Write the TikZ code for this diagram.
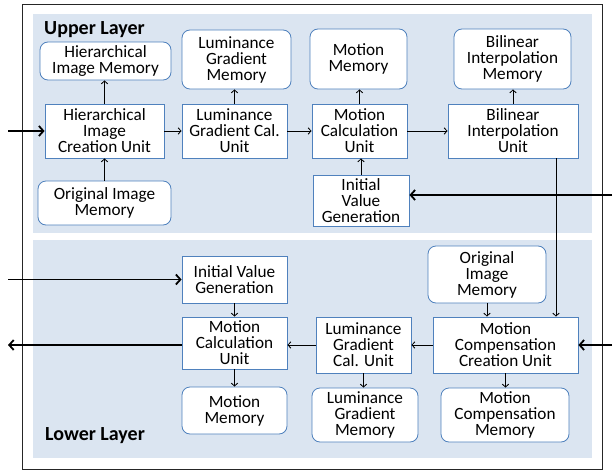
\documentclass[tikz,border=0pt]{standalone}
\usepackage{fontspec}
\setmainfont{Carlito}
\usetikzlibrary{arrows.meta}
\definecolor{boxblue}{RGB}{79,129,189}
\definecolor{panelblue}{RGB}{219,229,241}

\begin{document}
\begin{tikzpicture}[x=1pt,y=-1pt,
	every node/.style={font=\fontsize{17.2}{16}\selectfont,align=center,inner sep=0pt},
	unit/.style={rectangle,draw=boxblue,fill=white,line width=0.8pt},
	memory/.style={rectangle,rounded corners=8pt,draw=boxblue,fill=white,line width=0.8pt},
	layertitle/.style={font=\fontsize{20}{24}\selectfont\bfseries,anchor=base west},
	flow/.style={arrows={-Straight Barb[length=3pt,width=6.5pt]},line width=0.8pt},
	bigflow/.style={arrows={-Straight Barb[length=4.5pt,width=10pt]},line width=1.8pt}]
	\useasboundingbox (0,0) rectangle (616,471);
	
	\draw[black!85,line width=0.8pt] (22,4) rectangle (602,469);
	\fill[panelblue] (33,14) rectangle (592,233);
	\fill[panelblue] (33,240) rectangle (592,458);
	
	\node[layertitle] (upper) at (44,34.5) {Upper Layer};
	\node[layertitle] (lower) at (45,440.5) {Lower Layer};
	
	% upper layer
	\node[memory,minimum width=131,minimum height=38] (himem1)
	at (105.5,61) {Hierarchical\\Image Memory};
	\node[unit,minimum width=119,minimum height=54] (creation1)
	at (104.5,131) {Hierarchical\\Image\\Creation Unit};
	\node[memory,minimum width=133,minimum height=44] (origmem1)
	at (104.5,203) {Original Image\\Memory};
	
	\node[memory,minimum width=109,minimum height=59] (lgmem1)
	at (236.5,59.5) {Luminance\\Gradient\\Memory};
	\node[unit,minimum width=105,minimum height=54] (lgcal1)
	at (234.5,131) {Luminance\\Gradient Cal.\\Unit};
	
	\node[memory,minimum width=97,minimum height=60] (motmem1)
	at (358.5,59) {Motion\\Memory};
	\node[unit,minimum width=95,minimum height=54] (motcal1)
	at (359.5,131) {Motion\\Calculation\\Unit};
	\node[unit,minimum width=96,minimum height=51] (init1)
	at (361,200.5) {Initial\\Value\\Generation};
	
	\node[memory,minimum width=117,minimum height=60] (bilinmem1)
	at (512.5,59) {Bilinear\\Interpolation\\Memory};
	\node[unit,minimum width=130,minimum height=54] (bilin1)
	at (513,131) {Bilinear\\Interpolation\\Unit};
	
	% lower layer
	\node[unit,minimum width=105,minimum height=47] (init2)
	at (234.5,279.5) {Initial Value\\Generation};
	\node[unit,minimum width=105,minimum height=52] (motcal2)
	at (234.5,343) {Motion\\Calculation\\Unit};
	\node[memory,minimum width=105,minimum height=47] (motmem2)
	at (234.5,410.5) {Motion\\Memory};
	
	\node[memory,minimum width=118,minimum height=57] (origmem2)
	at (487,274.5) {Original\\Image\\Memory};
	\node[unit,minimum width=145,minimum height=56] (comp2)
	at (505.5,345) {Motion\\Compensation\\Creation Unit};
	\node[unit,minimum width=95,minimum height=56] (lgcal2)
	at (363.5,345) {Luminance\\Gradient\\Cal. Unit};
	\node[memory,minimum width=106,minimum height=54] (lgmem2)
	at (365,415) {Luminance\\Gradient\\Memory};
	\node[memory,minimum width=128,minimum height=54] (compmem2)
	at (505,415) {Motion\\Compensation\\Memory};
	
	\coordinate (inL1) at (8,131);
	\coordinate (inR1) at (612,195);
	\coordinate (inL2) at (8,279.5);
	\coordinate (outL2) at (8,345);
	\coordinate (inR2) at (612,345);
	
	\path[bigflow] (inL1) edge (creation1);
	\path[flow] (creation1) edge (lgcal1);
	\path[flow] (lgcal1) edge (motcal1);
	\path[flow] (motcal1) edge (bilin1);
	\path[flow] (creation1) edge (creation1 |- himem1.south);
	\path[flow] (origmem1) edge (origmem1 |- creation1.south);
	\path[flow] (lgcal1) edge (lgcal1 |- lgmem1.south);
	\path[flow] (motcal1) edge (motcal1 |- motmem1.south);
	\path[flow] (init1) edge (init1 |- motcal1.south);
	\path[flow] (bilin1) edge (bilin1 |- bilinmem1.south);
	\path[bigflow] (inR1) edge (inR1 -| init1.east);
	\path[flow] ([xshift=43pt]bilin1.south) edge ([xshift=43pt]bilin1.south |- comp2.north);
	
	\path[bigflow] (inL2) edge (inL2 -| init2.west);
	\path[flow] (init2) edge (motcal2);
	\path[flow] (motcal2) edge (motmem2);
	\path[bigflow] (motcal2.west |- outL2) edge (outL2);
	\path[flow] (lgcal2) edge (lgcal2 -| motcal2.east);
	\path[flow] (comp2) edge (lgcal2);
	\path[bigflow] (inR2) edge (comp2);
	\path[flow] (origmem2) edge (origmem2 |- comp2.north);
	\path[flow] (lgcal2) edge (lgcal2 |- lgmem2.north);
	\path[flow] (comp2) edge (comp2 |- compmem2.north);
\end{tikzpicture}
\end{document}
